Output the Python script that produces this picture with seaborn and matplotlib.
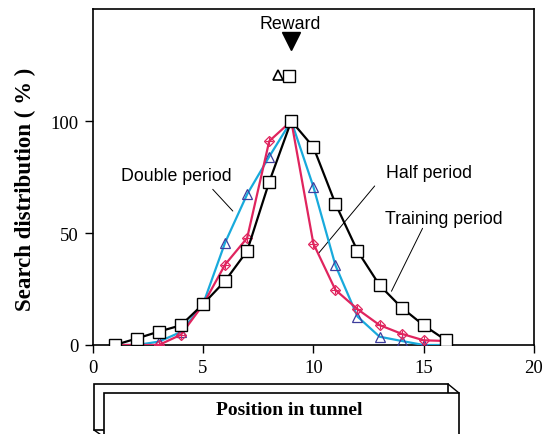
import matplotlib.pyplot as plt
import seaborn as sns
import pandas as pd
from matplotlib.patches import Rectangle
from matplotlib.lines import Line2D

# positions along the tunnel
position = list(range(1, 17))

# search distribution (%) per condition
training = [0, 2.9, 6.0, 8.8, 18.2, 28.6, 42, 72.8, 100, 88.4, 63.1, 42, 26.7, 16.7, 8.8, 2.2]
double = [0, 0, 1.5, 5.8, 18.2, 45.7, 67.3, 84.1, 100, 70.7, 35.6, 12.7, 3.7, 1.8, 0, 0]
half = [0, 0, 0, 4.6, 18.0, 35.9, 47.8, 91, 100, 45.3, 24.6, 16, 8.9, 5, 2.1, 1.8]

# the two stray symbols near the reward mark
extra_x = [8.4, 8.88]
extra_y = [120.5, 120]

serif = ['Liberation Serif', 'DejaVu Serif']
sans = ['Liberation Sans', 'DejaVu Sans']

sns.set_style('ticks')
plt.rcParams['font.family'] = serif
plt.rcParams['text.color'] = 'black'

df = pd.DataFrame({'pos': position, 'Training': training,
                   'Double': double, 'Half': half})

fig = plt.figure(figsize=(5.46, 4.35), dpi=100)
ax = fig.add_axes([0.1698, 0.2046, 0.8082, 0.7724])

sns.lineplot(data=df, x='pos', y='Double', ax=ax, color='#18aadc', lw=1.6,
             marker='^', markersize=7, markerfacecolor='none',
             markeredgecolor='#3d3d9c', markeredgewidth=0.9, zorder=3)
sns.lineplot(data=df, x='pos', y='Half', ax=ax, color='#e0245e', lw=1.6,
             marker='D', markersize=5, markerfacecolor='none',
             markeredgecolor='#e0245e', markeredgewidth=0.9, zorder=4)
sns.scatterplot(data=df, x='pos', y='Half', ax=ax, marker='+', s=30,
                color='#e0245e', linewidth=0.8, zorder=5)
sns.lineplot(data=df, x='pos', y='Training', ax=ax, color='black', lw=1.6,
             marker='s', markersize=9, markerfacecolor='white',
             markeredgecolor='black', markeredgewidth=1.0, zorder=6)

ax.plot(extra_x[0], extra_y[0], marker='^', ms=7, mfc='none', mec='black', mew=1.2)
ax.plot(extra_x[1], extra_y[1], marker='s', ms=9, mfc='white', mec='black', mew=1.0)

# reward marker
ax.plot(9, 135.5, marker='v', ms=13, color='black', clip_on=False)
ax.text(8.97, 143.5, 'Reward', ha='center', va='center', fontsize=12.8,
        family=sans, color='black')

# annotations
ax.text(3.81, 75.5, 'Double period', ha='center', va='center', fontsize=12.8,
        family=sans, color='black')
ax.plot([5.44, 6.35], [69.5, 59.8], color='black', lw=0.7)
ax.text(15.22, 77.1, 'Half period', ha='center', va='center', fontsize=12.8,
        family=sans, color='black')
ax.plot([12.78, 10.24], [71, 41], color='black', lw=0.7)
ax.text(15.9, 56.6, 'Training period', ha='center', va='center', fontsize=12.8,
        family=sans, color='black')
ax.plot([14.95, 13.54], [52.1, 24], color='black', lw=0.7)

ax.set_xlim(0, 20)
ax.set_ylim(0, 150)
ax.set_xticks([0, 5, 10, 15, 20])
ax.set_yticks([0, 50, 100])
ax.tick_params(labelsize=13.5, length=6, width=1, pad=4, direction='out', colors='black')
for s in ax.spines.values():
    s.set_visible(True)
    s.set_linewidth(1.2)
    s.set_color('black')
ax.set_xlabel('')
ax.set_ylabel('')

W, H = 546, 435
def fx(px):
    return px / W
def fy(py):
    return 1 - py / H

fig.text(fx(25), fy(189), 'Search distribution ( % )', rotation=90, ha='center',
         va='center', fontsize=16.5, fontweight='bold', color='black')

# 3D-looking box for the x label
fig.patches.append(Rectangle((fx(94), fy(431)), fx(448) - fx(94), fy(385) - fy(431),
                             transform=fig.transFigure, fill=True, fc='white',
                             ec='black', lw=1.2, zorder=1))
fig.lines.append(Line2D([fx(448), fx(459)], [fy(385), fy(394)],
                        transform=fig.transFigure, color='black', lw=1.0, zorder=1))
fig.lines.append(Line2D([fx(94), fx(104)], [fy(431), fy(438)],
                        transform=fig.transFigure, color='black', lw=1.0, zorder=1))
fig.patches.append(Rectangle((fx(104), fy(445)), fx(459) - fx(104), fy(394) - fy(445),
                             transform=fig.transFigure, fill=True, fc='white',
                             ec='black', lw=1.2, zorder=2))
fig.text(fx(289), fy(411), 'Position in tunnel', ha='center', va='center',
         fontsize=14, fontweight='bold', color='black', zorder=3)

fig.savefig('out.png', dpi=100)
